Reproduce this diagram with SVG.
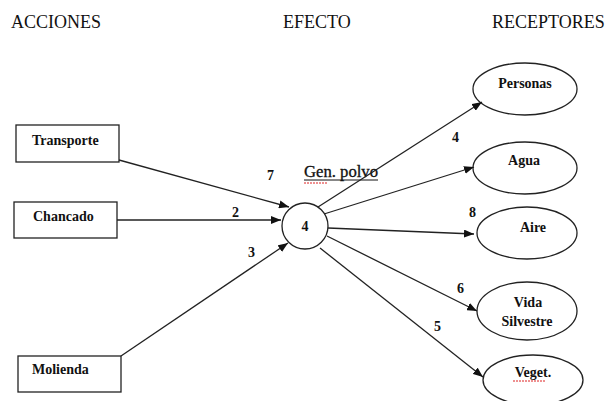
<svg xmlns="http://www.w3.org/2000/svg" width="612" height="401" viewBox="0 0 612 401">
<style>
.hdr{font-family:"Liberation Serif",serif;font-size:18px;fill:#111}
.lbl{font-family:"Liberation Serif",serif;font-size:14px;font-weight:bold;fill:#111}
.num{font-family:"Liberation Serif",serif;font-size:14px;font-weight:bold;fill:#111}
.box{fill:#fff;stroke:#222;stroke-width:1.3}
.node{fill:#fff;stroke:#222;stroke-width:1.3}
.edge{stroke:#222;stroke-width:1.3;fill:none;marker-end:url(#arr)}
</style>
<defs>
<marker id="arr" viewBox="0 0 10 8" refX="10" refY="4" markerWidth="10" markerHeight="8" markerUnits="userSpaceOnUse" orient="auto">
<path d="M0,0 L10,4 L0,8 Z" fill="#111"/>
</marker>
</defs>
<rect width="612" height="401" fill="#fff"/>
<g id="headers">
<text class="hdr" x="11" y="28">ACCIONES</text>
<text class="hdr" x="283" y="28">EFECTO</text>
<text class="hdr" x="492" y="28">RECEPTORES</text>
</g>
<g id="transporte">
<rect class="box" x="16" y="125" width="103" height="37"/>
<text class="lbl" x="32" y="145">Transporte</text>
</g>
<g id="chancado">
<rect class="box" x="14" y="202" width="103" height="36"/>
<text class="lbl" x="33" y="221">Chancado</text>
</g>
<g id="molienda">
<rect class="box" x="18" y="356" width="103" height="36"/>
<text class="lbl" x="32" y="374">Molienda</text>
</g>
<g id="personas">
<ellipse class="node" cx="525" cy="89" rx="52" ry="26"/>
<text class="lbl" x="525" y="88" text-anchor="middle">Personas</text>
</g>
<g id="agua">
<ellipse class="node" cx="525" cy="168" rx="52" ry="26"/>
<text class="lbl" x="524" y="165" text-anchor="middle">Agua</text>
</g>
<g id="aire">
<ellipse class="node" cx="527" cy="233" rx="50" ry="26"/>
<text class="lbl" x="533" y="232" text-anchor="middle">Aire</text>
</g>
<g id="vida">
<ellipse class="node" cx="527" cy="311" rx="50" ry="29"/>
<text class="lbl" x="528" y="307" text-anchor="middle">Vida</text>
<text class="lbl" x="527" y="326" text-anchor="middle">Silvestre</text>
</g>
<g id="veget">
<ellipse class="node" cx="533" cy="380" rx="50" ry="25"/>
<text class="lbl" x="533" y="377" text-anchor="middle">Veget.</text>
<line x1="513" y1="381" x2="545" y2="381" stroke="#d22" stroke-width="1" stroke-dasharray="2,1"/>
</g>
<g id="efecto">
<circle class="node" cx="305" cy="226" r="23"/>
<text class="num" x="305" y="231" text-anchor="middle">4</text>
<text x="304" y="177" font-family="Liberation Serif,serif" font-size="16" fill="#111" stroke="#111" stroke-width="0.3" textLength="74" lengthAdjust="spacingAndGlyphs">Gen. polvo</text>
<line x1="304" y1="180" x2="378" y2="180" stroke="#111" stroke-width="1"/>
<line x1="304" y1="183" x2="327" y2="183" stroke="#d22" stroke-width="1" stroke-dasharray="2,1"/>
</g>
<g id="connectors">
<line class="edge" x1="119" y1="160" x2="289" y2="207"/>
<line class="edge" x1="117" y1="220" x2="281" y2="220"/>
<line class="edge" x1="121" y1="356" x2="288" y2="243"/>
<line class="edge" x1="318" y1="207" x2="482" y2="102"/>
<line class="edge" x1="324" y1="214" x2="474" y2="167"/>
<line class="edge" x1="328" y1="228" x2="474" y2="234"/>
<line class="edge" x1="327" y1="236" x2="477" y2="311"/>
<line class="edge" x1="320" y1="248" x2="483" y2="377"/>
<text class="num" x="267" y="180">7</text>
<text class="num" x="232" y="217">2</text>
<text class="num" x="248" y="257">3</text>
<text class="num" x="452" y="142">4</text>
<text class="num" x="469" y="217">8</text>
<text class="num" x="457" y="293">6</text>
<text class="num" x="434" y="331">5</text>
</g>
</svg>
